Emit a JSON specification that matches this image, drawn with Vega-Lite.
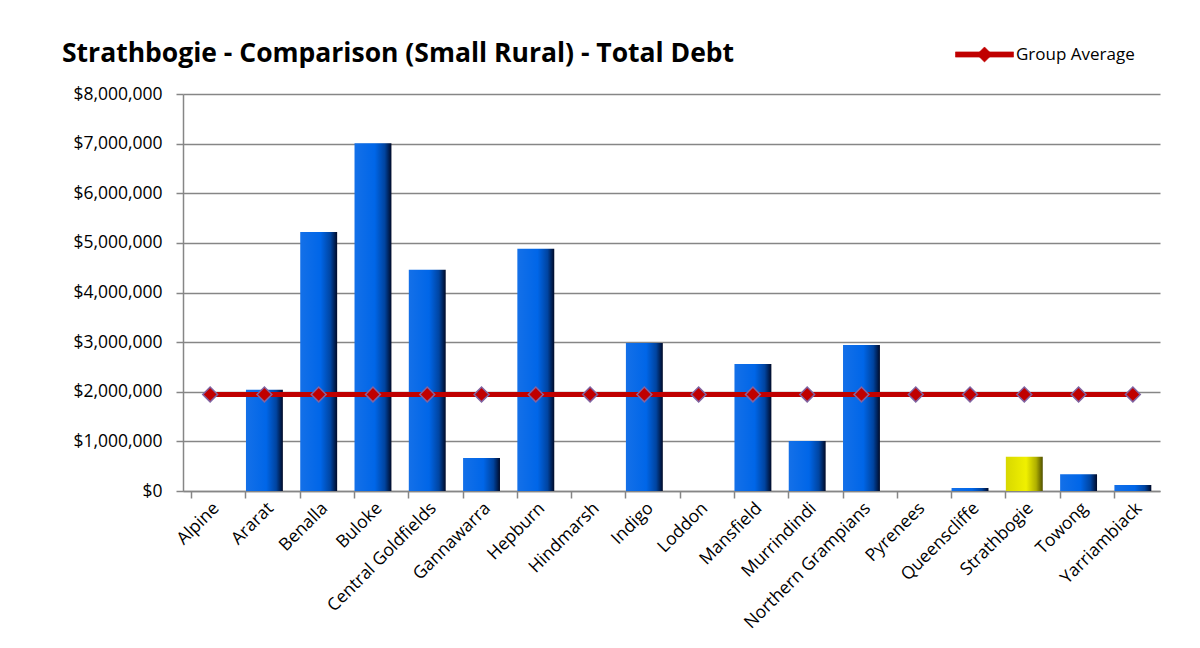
{
  "$schema": "https://vega.github.io/schema/vega-lite/v6.json",
  "autosize": {"type": "none"},
  "width": 977,
  "height": 397,
  "padding": {"left": 183, "top": 94, "right": 40, "bottom": 157},
  "background": "white",
  "title": {
    "text": "Strathbogie - Comparison (Small Rural) - Total Debt",
    "anchor": "start",
    "frame": "group",
    "font": "Open Sans",
    "fontSize": 26.5,
    "fontWeight": "bold",
    "color": "black",
    "dx": -121,
    "dy": 64,
    "offset": 22
  },
  "data": {
    "values": [
      {"council": "Alpine", "debt": 0, "avg": 1945000},
      {"council": "Ararat", "debt": 2040000, "avg": 1945000},
      {"council": "Benalla", "debt": 5220000, "avg": 1945000},
      {"council": "Buloke", "debt": 7010000, "avg": 1945000},
      {"council": "Central Goldfields", "debt": 4460000, "avg": 1945000},
      {"council": "Gannawarra", "debt": 665000, "avg": 1945000},
      {"council": "Hepburn", "debt": 4880000, "avg": 1945000},
      {"council": "Hindmarsh", "debt": 0, "avg": 1945000},
      {"council": "Indigo", "debt": 2980000, "avg": 1945000},
      {"council": "Loddon", "debt": 0, "avg": 1945000},
      {"council": "Mansfield", "debt": 2560000, "avg": 1945000},
      {"council": "Murrindindi", "debt": 1010000, "avg": 1945000},
      {"council": "Northern Grampians", "debt": 2940000, "avg": 1945000},
      {"council": "Pyrenees", "debt": 0, "avg": 1945000},
      {"council": "Queenscliffe", "debt": 60000, "avg": 1945000},
      {"council": "Strathbogie", "debt": 690000, "avg": 1945000},
      {"council": "Towong", "debt": 340000, "avg": 1945000},
      {"council": "Yarriambiack", "debt": 120000, "avg": 1945000}
    ]
  },
  "config": {
    "view": {"stroke": null},
    "font": "Open Sans",
    "axis": {
      "labelFont": "Open Sans",
      "labelFontSize": 17.5,
      "labelColor": "black",
      "domainColor": "#868686",
      "tickColor": "#868686",
      "gridColor": "#868686",
      "domainWidth": 1.5,
      "tickWidth": 1.5,
      "gridWidth": 1.5,
      "labelOverlap": false
    }
  },
  "resolve": {"axis": {"x": "independent"}},
  "layer": [
    {
      "mark": {
        "type": "bar",
        "color": {
          "gradient": "linear", "x1": 0, "x2": 1, "y1": 0, "y2": 0,
          "stops": [
            {"offset": 0, "color": "#1470e8"},
            {"offset": 0.55, "color": "#0066e8"},
            {"offset": 0.82, "color": "#0044a0"},
            {"offset": 1, "color": "#000a28"}
          ]
        }
      },
      "transform": [{"filter": "datum.council !== 'Strathbogie'"}],
      "encoding": {
        "x": {
          "field": "council", "type": "nominal",
          "scale": {
            "domain": ["Alpine","Ararat","Benalla","Buloke","Central Goldfields","Gannawarra","Hepburn","Hindmarsh","Indigo","Loddon","Mansfield","Murrindindi","Northern Grampians","Pyrenees","Queenscliffe","Strathbogie","Towong","Yarriambiack"],
            "paddingInner": 0.32, "paddingOuter": 0.16
          },
          "axis": {"orient": "bottom", "title": null, "labelAngle": -45, "ticks": false, "domain": true, "labelPadding": 8}
        },
        "y": {
          "field": "debt", "type": "quantitative",
          "scale": {"domain": [0, 8000000]},
          "axis": {"title": null, "format": "$,.0f", "values": [0,1000000,2000000,3000000,4000000,5000000,6000000,7000000,8000000], "tickSize": 7, "labelPadding": 14, "grid": true}
        }
      }
    },
    {
      "mark": {
        "type": "bar",
        "color": {
          "gradient": "linear", "x1": 0, "x2": 1, "y1": 0, "y2": 0,
          "stops": [
            {"offset": 0, "color": "#d8d800"},
            {"offset": 0.55, "color": "#f0f000"},
            {"offset": 0.82, "color": "#b0b000"},
            {"offset": 1, "color": "#505000"}
          ]
        }
      },
      "transform": [{"filter": "datum.council === 'Strathbogie'"}],
      "encoding": {
        "x": {"field": "council", "type": "nominal", "axis": null},
        "y": {"field": "debt", "type": "quantitative",
          "axis": {"title": null, "format": "$,.0f", "values": [0,1000000,2000000,3000000,4000000,5000000,6000000,7000000,8000000], "tickSize": 7, "labelPadding": 14, "grid": true}}
      }
    },
    {
      "mark": {"type": "line", "strokeWidth": 5, "strokeCap": "butt"},
      "encoding": {
        "x": {"field": "council", "type": "nominal",
          "axis": {"orient": "bottom", "title": null, "labels": false, "ticks": true, "tickSize": 7, "bandPosition": 0, "domain": false, "grid": false}},
        "y": {"field": "avg", "type": "quantitative",
          "axis": {"title": null, "format": "$,.0f", "values": [0,1000000,2000000,3000000,4000000,5000000,6000000,7000000,8000000], "tickSize": 7, "labelPadding": 14, "grid": true}},
        "color": {
          "datum": "Group Average",
          "scale": {"range": ["#C00000"]},
          "legend": {
            "title": null,
            "orient": "none",
            "legendX": 772,
            "legendY": -69,
            "symbolType": "M-1,-0.09L1,-0.09L1,0.09L-1,0.09Z M0,-0.26L0.26,0L0,0.26L-0.26,0Z",
            "symbolSize": 3364,
            "symbolFillColor": "#C00000",
            "symbolStrokeColor": "#8064A2",
            "symbolStrokeWidth": 0.6,
            "labelFont": "Open Sans",
            "labelFontSize": 17,
            "labelColor": "black",
            "labelOffset": 2
          }
        }
      }
    },
    {
      "mark": {"type": "point", "shape": "diamond", "filled": true, "size": 220, "fill": "#C00000", "stroke": "#8064A2", "strokeWidth": 1.5, "opacity": 1},
      "encoding": {
        "x": {"field": "council", "type": "nominal", "axis": null},
        "y": {"field": "avg", "type": "quantitative",
          "axis": {"title": null, "format": "$,.0f", "values": [0,1000000,2000000,3000000,4000000,5000000,6000000,7000000,8000000], "tickSize": 7, "labelPadding": 14, "grid": true}}
      }
    }
  ]
}
